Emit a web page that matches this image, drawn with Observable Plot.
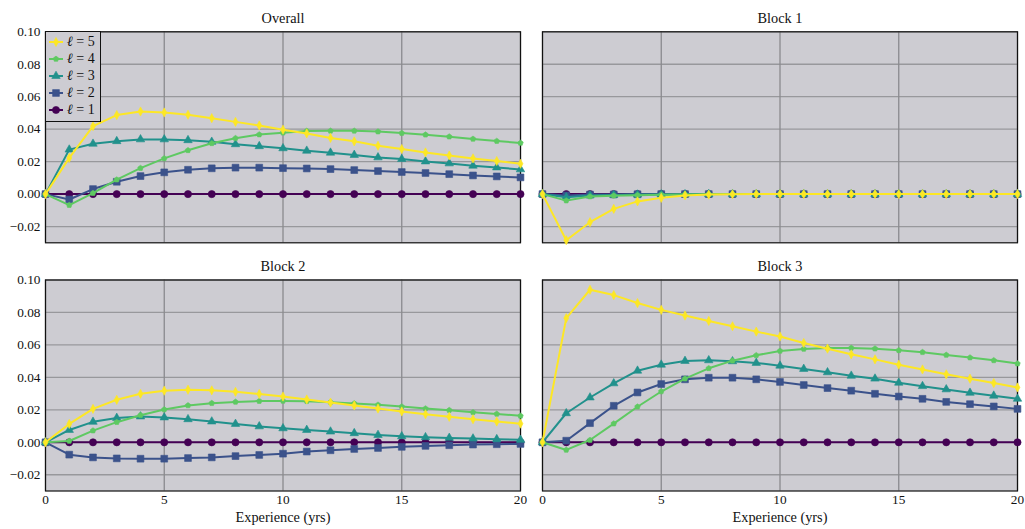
<!DOCTYPE html>
<html>
<head>
<meta charset="utf-8">
<script src="https://cdn.jsdelivr.net/npm/d3@7"></script>
<script src="https://cdn.jsdelivr.net/npm/@observablehq/plot@0.6"></script>
<style>
  html, body { margin: 0; padding: 0; background: #fff; }
  #root { position: relative; width: 1025px; height: 529px; font-family: 'Liberation Serif', 'DejaVu Serif', serif; color: #111; }
  #root svg text { font-family: 'Liberation Serif', 'DejaVu Serif', serif; }
  .legend { position: absolute; left: 45px; top: 31px; width: 54px; height: 88px; border: 1px solid #111;
            background: #cdccd2; box-sizing: content-box; font-size: 14px; padding-top: 1px; }
  .legend .row { height: 17.2px; display: flex; align-items: center; white-space: nowrap; }
  .legend svg { display: block; margin-left: 2px; margin-right: 3px; }
</style>
</head>
<body>
<div id="root"></div>
<script>
// ---- data ----
const experience = [0,1,2,3,4,5,6,7,8,9,10,11,12,13,14,15,16,17,18,19,20];
const xTicks = [0, 5, 10, 15, 20];
const yTicks = [-0.02, 0.00, 0.02, 0.04, 0.06, 0.08, 0.10];
const seriesLabels = ["ℓ = 1", "ℓ = 2", "ℓ = 3", "ℓ = 4", "ℓ = 5"];
const seriesColors = ["#440154", "#3b528b", "#21918c", "#5ec962", "#fde725"];
const panelTitles = ["Overall", "Block 1", "Block 2", "Block 3"];
const xLabel = "Experience (yrs)";

// Overall
const overallL1 = [0,0,0,0,0,0,0,0,0,0,0,0,0,0,0,0,0,0,0,0,0];
const overallL2 = [0,-0.0033,0.0031,0.0076,0.0111,0.0134,0.0150,0.0159,0.0163,0.0163,0.0160,0.0158,0.0154,0.0148,0.0142,0.0136,0.0130,0.0123,0.0115,0.0109,0.0103];
const overallL3 = [0,0.0274,0.0310,0.0326,0.0337,0.0337,0.0332,0.0322,0.0307,0.0295,0.0282,0.0267,0.0255,0.0241,0.0226,0.0216,0.0201,0.0189,0.0175,0.0164,0.0152];
const overallL4 = [0,-0.0068,0.0006,0.0089,0.0160,0.0220,0.0270,0.0313,0.0344,0.0367,0.0378,0.0389,0.0390,0.0390,0.0385,0.0376,0.0366,0.0354,0.0340,0.0327,0.0315];
const overallL5 = [0,0.0223,0.0419,0.0487,0.0509,0.0503,0.0489,0.0468,0.0445,0.0423,0.0397,0.0374,0.0346,0.0325,0.0298,0.0278,0.0257,0.0238,0.0220,0.0204,0.0187];
// Block 1
const block1L1 = [0,0,0,0,0,0,0,0,0,0,0,0,0,0,0,0,0,0,0,0,0];
const block1L2 = [0,-0.0008,-0.0003,-0.0002,-0.0001,0,0,0,0,0,0,0,0,0,0,0,0,0,0,0,0];
const block1L3 = [0,-0.0020,-0.0008,-0.0005,-0.0003,-0.0002,-0.0001,0,0,0,0,0,0,0,0,0,0,0,0,0,0];
const block1L4 = [0,-0.0040,-0.0015,-0.0010,-0.0007,-0.0004,-0.0002,-0.0001,0,0,0,0,0,0,0,0,0,0,0,0,0];
const block1L5 = [0,-0.0284,-0.0173,-0.0091,-0.0045,-0.0023,-0.0008,-0.0003,-0.0001,0,0,0,0,0,0,0,0,0,0,0,0];
// Block 2
const block2L1 = [0,0,0,0,0,0,0,0,0,0,0,0,0,0,0,0,0,0,0,0,0];
const block2L2 = [0,-0.0076,-0.0093,-0.0099,-0.0101,-0.0101,-0.0097,-0.0093,-0.0085,-0.0078,-0.0070,-0.0057,-0.0049,-0.0041,-0.0035,-0.0028,-0.0022,-0.0018,-0.0014,-0.0012,-0.0010];
const block2L3 = [0,0.0076,0.0126,0.0150,0.0159,0.0153,0.0142,0.0128,0.0113,0.0098,0.0086,0.0076,0.0066,0.0056,0.0045,0.0037,0.0031,0.0027,0.0023,0.0019,0.0015];
const block2L4 = [0,0.0008,0.0072,0.0124,0.0167,0.0202,0.0227,0.0241,0.0249,0.0254,0.0255,0.0253,0.0247,0.0239,0.0231,0.0220,0.0208,0.0198,0.0185,0.0175,0.0163];
const block2L5 = [0,0.0113,0.0206,0.0262,0.0299,0.0318,0.0324,0.0320,0.0311,0.0298,0.0282,0.0264,0.0245,0.0227,0.0208,0.0190,0.0173,0.0157,0.0142,0.0128,0.0115];
// Block 3
const block3L1 = [0,0,0,0,0,0,0,0,0,0,0,0,0,0,0,0,0,0,0,0,0];
const block3L2 = [0,0.0010,0.0118,0.0225,0.0307,0.0359,0.0388,0.0398,0.0398,0.0388,0.0372,0.0353,0.0334,0.0318,0.0299,0.0282,0.0268,0.0249,0.0235,0.0221,0.0206];
const block3L3 = [0,0.0179,0.0276,0.0363,0.0441,0.0478,0.0501,0.0505,0.0499,0.0489,0.0472,0.0452,0.0431,0.0410,0.0392,0.0367,0.0346,0.0326,0.0305,0.0287,0.0268];
const block3L4 = [0,-0.0047,0.0014,0.0115,0.0219,0.0313,0.0392,0.0456,0.0503,0.0536,0.0563,0.0575,0.0581,0.0581,0.0577,0.0567,0.0555,0.0538,0.0522,0.0505,0.0485];
const block3L5 = [0,0.0765,0.0940,0.0907,0.0858,0.0816,0.0781,0.0748,0.0715,0.0682,0.0652,0.0612,0.0577,0.0542,0.0511,0.0478,0.0449,0.0419,0.0392,0.0365,0.0338];

const panelSeries = [
  [overallL1, overallL2, overallL3, overallL4, overallL5],
  [block1L1, block1L2, block1L3, block1L4, block1L5],
  [block2L1, block2L2, block2L3, block2L4, block2L5],
  [block3L1, block3L2, block3L3, block3L4, block3L5]
];

// ---- marker symbols (pgfplots-like) ----
const rad = size => Math.sqrt(size / Math.PI);
const symCircle = {draw(c, s) { const r = rad(s); c.moveTo(r, 0); c.arc(0, 0, r, 0, 2 * Math.PI); c.closePath(); }};
const symSquare = {draw(c, s) { const r = rad(s); c.rect(-r, -r, 2 * r, 2 * r); }};
const symTriangle = {draw(c, s) { const r = rad(s) * 1.25; c.moveTo(0, -r); c.lineTo(r * 0.866, r * 0.5); c.lineTo(-r * 0.866, r * 0.5); c.closePath(); }};
const symPentagon = {draw(c, s) { const r = rad(s); for (let i = 0; i < 5; i++) { const a = -Math.PI / 2 + i * 2 * Math.PI / 5; const px = r * Math.cos(a), py = r * Math.sin(a); i ? c.lineTo(px, py) : c.moveTo(px, py); } c.closePath(); }};
const symDiamond = {draw(c, s) { const r = rad(s); const h = r * 1.15, w = r * 0.62; c.moveTo(0, -h); c.lineTo(w, 0); c.lineTo(0, h); c.lineTo(-w, 0); c.closePath(); }};
const seriesSymbols = [symCircle, symSquare, symTriangle, symPentagon, symDiamond];
const seriesR = [3.6, 3.4, 3.9, 2.9, 4.0];

const BG = "#cdccd2";
const GRID = "#98989c";
const FONT = "'Liberation Serif', 'DejaVu Serif', serif";
const font = {fontFamily: FONT, fontSize: "13.3px", color: "#111", background: "transparent", overflow: "visible"};
const LABEL_SIZE = 14.3;

function panel(idx, opts) {
  const marks = [
    Plot.frame({fill: BG, stroke: null}),
    Plot.gridY(yTicks, {stroke: GRID, strokeOpacity: 1, strokeWidth: 1.3}),
    Plot.gridX(xTicks, {stroke: "#8a8a8e", strokeOpacity: 1, strokeWidth: 1.3}),
    Plot.frame({stroke: "#111", strokeWidth: 1.2}),
    Plot.text([panelTitles[idx]], {text: d => d, frameAnchor: "top", dy: -19, fontSize: LABEL_SIZE, fontFamily: FONT})
  ];
  if (opts.showY) marks.push(Plot.axisY(yTicks, {tickSize: 0, tickPadding: 5, tickFormat: d3.format(".2f"), label: null, fontSize: 13.3, fontFamily: FONT}));
  if (opts.showX) {
    marks.push(Plot.axisX(xTicks, {tickSize: 0, tickPadding: 4, tickFormat: d3.format("d"), label: null, fontSize: 13.3, fontFamily: FONT}));
    marks.push(Plot.text([xLabel], {text: d => d, frameAnchor: "bottom", dy: 30.5, fontSize: LABEL_SIZE, fontFamily: FONT}));
  }
  panelSeries[idx].forEach((vals, k) => {
    const rows = experience.map((e, i) => ({e, v: vals[i]}));
    marks.push(Plot.line(rows, {x: "e", y: "v", stroke: seriesColors[k], strokeWidth: 2}));
    marks.push(Plot.dot(rows, {x: "e", y: "v", symbol: seriesSymbols[k], r: seriesR[k], fill: seriesColors[k], stroke: seriesColors[k], strokeWidth: 0.6}));
  });
  const chart = Plot.plot({
    width: opts.width, height: opts.height,
    marginLeft: opts.ml, marginRight: opts.mr, marginTop: opts.mt, marginBottom: opts.mb,
    style: font,
    x: {domain: [0, 20], ...(opts.showX ? {} : {axis: null})},
    y: {domain: [-0.03, 0.10], ...(opts.showY ? {} : {axis: null})},
    marks
  });
  chart.style.left = opts.left + "px";
  chart.style.top = opts.top + "px";
  chart.style.position = "absolute";
  return chart;
}

const root = document.getElementById("root");
root.appendChild(panel(0, {left: 0, top: 0, width: 530, height: 250, ml: 45, mr: 10, mt: 31.3, mb: 7.7, showY: true, showX: false}));
root.appendChild(panel(1, {left: 530, top: 0, width: 495, height: 250, ml: 12, mr: 8, mt: 31.3, mb: 7.7, showY: false, showX: false}));
root.appendChild(panel(2, {left: 0, top: 260, width: 530, height: 269, ml: 45, mr: 10, mt: 19.5, mb: 38.5, showY: true, showX: true}));
root.appendChild(panel(3, {left: 530, top: 260, width: 495, height: 269, ml: 12, mr: 8, mt: 19.5, mb: 38.5, showY: false, showX: true}));

// legend (reversed order as in the reference)
const legend = document.createElement("div");
legend.className = "legend";
for (let k = seriesLabels.length - 1; k >= 0; k--) {
  const row = document.createElement("div");
  row.className = "row";
  const sw = d3.create("svg").attr("width", 16).attr("height", 12);
  sw.append("line").attr("x1", 1).attr("x2", 15).attr("y1", 6).attr("y2", 6).attr("stroke", seriesColors[k]).attr("stroke-width", 2);
  sw.append("path").attr("transform", "translate(8,6)")
    .attr("d", d3.symbol(seriesSymbols[k], seriesR[k] * seriesR[k] * Math.PI)())
    .attr("fill", seriesColors[k]).attr("stroke", seriesColors[k]).attr("stroke-width", 0.6);
  row.appendChild(sw.node());
  const ell = seriesLabels[k].slice(0, 1), rest = seriesLabels[k].slice(1);
  const t = document.createElement("span");
  const i1 = document.createElement("i"); i1.textContent = ell;
  t.appendChild(i1); t.appendChild(document.createTextNode(rest));
  row.appendChild(t);
  legend.appendChild(row);
}
root.appendChild(legend);
</script>
</body>
</html>
